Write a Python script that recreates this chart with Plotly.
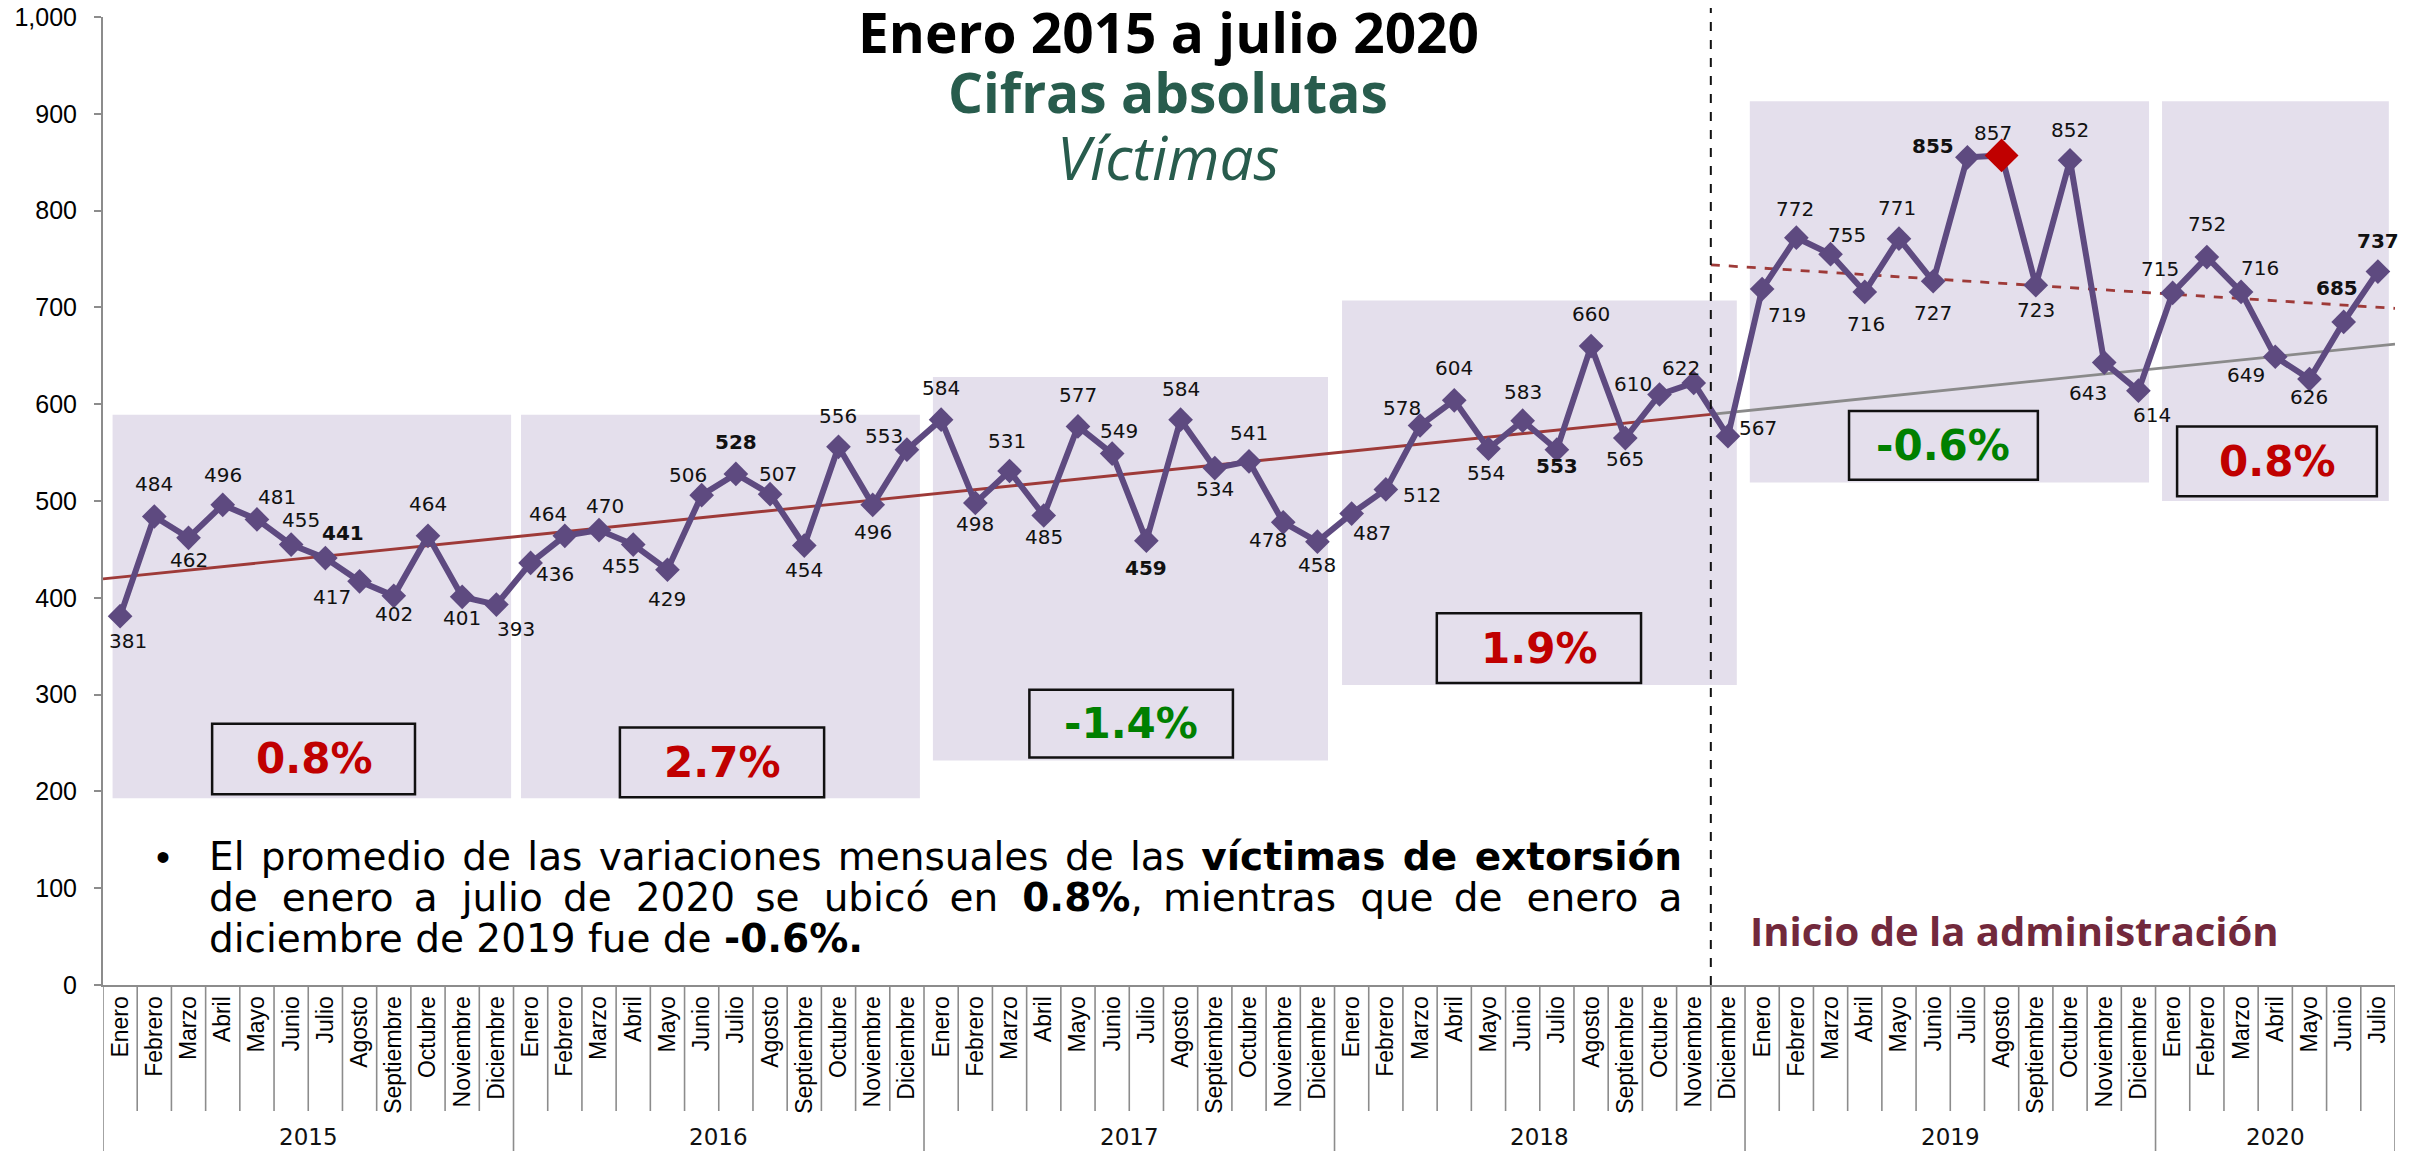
import plotly.graph_objects as go

# ---------------- data ----------------
years = ["2015", "2016", "2017", "2018", "2019", "2020"]
months = ["Enero", "Febrero", "Marzo", "Abril", "Mayo", "Junio", "Julio", "Agosto",
          "Septiembre", "Octubre", "Noviembre", "Diciembre"]
months_per_year = [12, 12, 12, 12, 12, 7]

victimas_2015 = [381, 484, 462, 496, 481, 455, 441, 417, 402, 464, 401, 393]
victimas_2016 = [436, 464, 470, 455, 429, 506, 528, 507, 454, 556, 496, 553]
victimas_2017 = [584, 498, 531, 485, 577, 549, 459, 584, 534, 541, 478, 458]
victimas_2018 = [487, 512, 578, 604, 554, 583, 553, 660, 565, 610, 622, 567]
victimas_2019 = [719, 772, 755, 716, 771, 727, 855, 857, 723, 852, 643, 614]
victimas_2020 = [715, 752, 716, 649, 626, 685, 737]

variacion_promedio = ["0.8%", "2.7%", "-1.4%", "1.9%", "-0.6%", "0.8%"]

# trend lines (value at the start / at Nov-Dic 2018 boundary / at end)
tendencia_total = [419.5, 589.5, 662.0]
tendencia_admin = [744.0, 699.0]

# ---------------- derived ----------------
values = victimas_2015 + victimas_2016 + victimas_2017 + victimas_2018 + victimas_2019 + victimas_2020
cat_months = []
cat_years = []
for y, n in zip(years, months_per_year):
    cat_months += months[:n]
    cat_years += [y] * n
N = len(values)
idx = list(range(N))

# ---------------- geometry (reference pixels, page has an 8px body margin) ----------------
OFF = 8
W, H = 2420 - OFF, 1151 - OFF
PX_L, PX_R, PX_T, PX_B = 103, 2395, 17, 985   # plot area in reference pixels


def xp(px):
    return (px - PX_L) / (PX_R - PX_L)


def yp(py):
    return (PX_B - py) / (PX_B - PX_T)


FONT = "Liberation Sans, Arial, sans-serif"
WFONT = "DejaVu Sans, Verdana, sans-serif"
TFONT = "Open Sans, sans-serif"
PURPLE = "#5E4A80"
RED = "#C00000"
GREEN = "#008000"
LAV = "#E4DFEC"
GRAY = "#8C8C8C"

fig = go.Figure()

# trend lines
fig.add_trace(go.Scatter(x=[-0.5, 46.5], y=tendencia_total[:2], mode="lines",
                         line=dict(color="#9E3A38", width=2.8), hoverinfo="skip", showlegend=False))
fig.add_trace(go.Scatter(x=[46.5, 66.5], y=tendencia_total[1:], mode="lines",
                         line=dict(color="#8A8A8A", width=2.8), hoverinfo="skip", showlegend=False))
fig.add_trace(go.Scatter(x=[46.5, 66.5], y=tendencia_admin, mode="lines",
                         line=dict(color="#9E3A38", width=2.8, dash="dash"), hoverinfo="skip", showlegend=False))

# main series
fig.add_trace(go.Scatter(x=idx, y=values, mode="lines+markers",
                         line=dict(color=PURPLE, width=6),
                         marker=dict(symbol="diamond", size=19, color=PURPLE),
                         customdata=[f"{m} {y}" for m, y in zip(cat_months, cat_years)],
                         hovertemplate="%{customdata}: %{y}<extra></extra>", showlegend=False))
imax = max(idx, key=lambda i: values[i])
fig.add_trace(go.Scatter(x=[imax], y=[values[imax]], mode="markers",
                         marker=dict(symbol="diamond", size=26, color=RED),
                         hoverinfo="skip", showlegend=False))

shapes = []
# year shaded panels (x0, x1, y0, y1)
panels = [(-0.22, 11.43, 193, 589), (11.72, 23.38, 193, 589), (23.76, 35.31, 232, 628),
          (35.72, 47.26, 310, 707), (47.64, 59.31, 519, 913), (59.69, 66.32, 500, 913)]
for x0, x1, y0, y1 in panels:
    shapes.append(dict(type="rect", xref="x", yref="y", x0=x0, x1=x1, y0=y0, y1=y1,
                       fillcolor=LAV, line=dict(width=0), layer="below"))

# percentage boxes
boxes = [(2.69, 8.62, 197, 270), (14.61, 20.58, 194, 266), (26.58, 32.53, 235, 305),
         (38.49, 44.46, 312, 384), (50.54, 56.06, 522, 593), (60.13, 65.97, 505, 577)]
annotations = []
for (x0, x1, y0, y1), txt in zip(boxes, variacion_promedio):
    shapes.append(dict(type="rect", xref="x", yref="y", x0=x0, x1=x1, y0=y0, y1=y1,
                       line=dict(color="#111111", width=2.5), fillcolor="rgba(0,0,0,0)", layer="above"))
    col = GREEN if txt.startswith("-") else RED
    annotations.append(dict(x=(x0 + x1) / 2, y=(y0 + y1) / 2, xref="x", yref="y",
                            xanchor="center", yanchor="middle",
                            text=f"<b>{txt}</b>", showarrow=False,
                            font=dict(family=WFONT, size=42, color=col)))

# vertical dashed line: start of administration
shapes.append(dict(type="line", xref="x", yref="paper", x0=46.5, x1=46.5, y0=0, y1=yp(8),
                   line=dict(color="#111111", width=2, dash="dash")))

# month separators and year separators below the axis
year_bounds = [-0.5]
for n in months_per_year:
    year_bounds.append(year_bounds[-1] + n)
for b in [i - 0.5 for i in range(N + 1)]:
    y0 = yp(1160) if b in year_bounds else yp(1111)
    shapes.append(dict(type="line", xref="x", yref="paper", x0=b, x1=b, y0=0, y1=y0,
                       line=dict(color=GRAY, width=1.6)))

# year labels
for k, yr in enumerate(years):
    c = (year_bounds[k] + year_bounds[k + 1]) / 2
    annotations.append(dict(x=c, y=yp(1137), xref="x", yref="paper", text=yr, showarrow=False,
                            xanchor="center", yanchor="middle",
                            font=dict(family=WFONT, size=23, color="#111111")))

# data labels (dx, dy in px; dy positive = downward)
offsets = [(8, 25), (0, -32), (0, 22), (0, -30), (20, -22), (10, -25), (18, -25), (-28, 16),
           (0, 18), (0, -32), (0, 21), (20, 24),
           (24, 11), (-17, -22), (6, -24), (-12, 21), (0, 29), (-14, -20), (0, -32), (8, -20),
           (0, 24), (0, -31), (0, 27), (-23, -14),
           (0, -32), (0, 21), (-3, -30), (0, 21), (0, -31), (7, -23), (0, 27), (0, -31),
           (0, 21), (0, -28), (-15, 18), (0, 23),
           (20, 19), (36, 6), (-18, -18), (0, -32), (-2, 24), (0, -29), (0, 16), (0, -32),
           (0, 21), (-27, -11), (-13, -15), (30, -8),
           (25, 26), (-1, -29), (16, -19), (1, 32), (-2, -31), (0, 32), (-34, -11), (-9, -22),
           (0, 25), (0, -30), (-16, 30), (14, 24),
           (-13, -24), (0, -33), (19, -24), (-29, 18), (0, 18), (-7, -34), (0, -31)]
bold_idx = {6, 18, 30, 42, 54, 65, 66}
for i, v in enumerate(values):
    dx, dy = offsets[i]
    t = f"<b>{v}</b>" if i in bold_idx else str(v)
    annotations.append(dict(x=i, y=v, xref="x", yref="y", text=t, showarrow=False,
                            xanchor="center", yanchor="middle",
                            xshift=dx, yshift=-dy, font=dict(family=WFONT, size=20, color="#111111")))


def paper_text(px, py, text, size, color, family=TFONT, xanchor="center"):
    annotations.append(dict(x=xp(px), y=yp(py), xref="paper", yref="paper", showarrow=False,
                            text=text, xanchor=xanchor, yanchor="middle",
                            font=dict(family=family, size=size, color=color)))


# titles
paper_text(1168, 31, "<b>Enero 2015 a julio 2020</b>", 55, "#000000")
paper_text(1168, 92, "<b>Cifras absolutas</b>", 55, "#285C4D")
paper_text(1168, 157, "<i>Víctimas</i>", 60, "#285C4D")
paper_text(2014, 930, "<b>Inicio de la administración</b>", 40, "#72293C")


# bullet paragraph (justified by widening word gaps)
def justify(words, extras):
    out = words[0]
    for g, w in enumerate(words[1:]):
        out += " " + extras[g % len(extras)] + w
    return out


line1 = justify(["El", "promedio", "de", "las", "variaciones", "mensuales", "de", "las",
                 "<b>víctimas", "de", "extorsión</b>"], ["\u200a"])
line2 = justify(["de", "enero", "a", "julio", "de", "2020", "se", "ubicó", "en", "<b>0.8%</b>,",
                 "mientras", "que", "de", "enero", "a"], ["\u2009\u200a", "\u2009"])
line3 = "diciembre de 2019 fue de <b>-0.6%.</b>"
paper_text(163, 857, "•", 40, "#000000", family=FONT)
for t, py in [(line1, 856), (line2, 897), (line3, 938)]:
    paper_text(207, py, t, 39, "#000000", family=WFONT, xanchor="left")

fig.update_layout(
    width=W, height=H,
    margin=dict(l=PX_L - OFF, r=W - (PX_R - OFF), t=PX_T - OFF, b=H - (PX_B - OFF), autoexpand=False),
    paper_bgcolor="#FFFFFF", plot_bgcolor="rgba(0,0,0,0)",
    shapes=shapes, annotations=annotations, showlegend=False,
    xaxis=dict(range=[-0.5, N - 0.5], tickmode="array", tickvals=idx, ticktext=cat_months,
               tickangle=-90, showgrid=False, zeroline=False, showline=True,
               linecolor=GRAY, linewidth=2, ticks="", ticklabeloverflow="allow",
               tickfont=dict(family=FONT, size=23, color="#000")),
    yaxis=dict(range=[0, 1000], tickmode="array", tickvals=list(range(0, 1001, 100)),
               tickformat=",d", showgrid=False, zeroline=False, showline=True,
               linecolor=GRAY, linewidth=2, ticks="outside", ticklen=7, tickcolor=GRAY,
               tickwidth=2, ticklabelstandoff=12, ticklabeloverflow="allow",
               tickfont=dict(family=FONT, size=25, color="#000")),
)

fig.write_html("out.html")
